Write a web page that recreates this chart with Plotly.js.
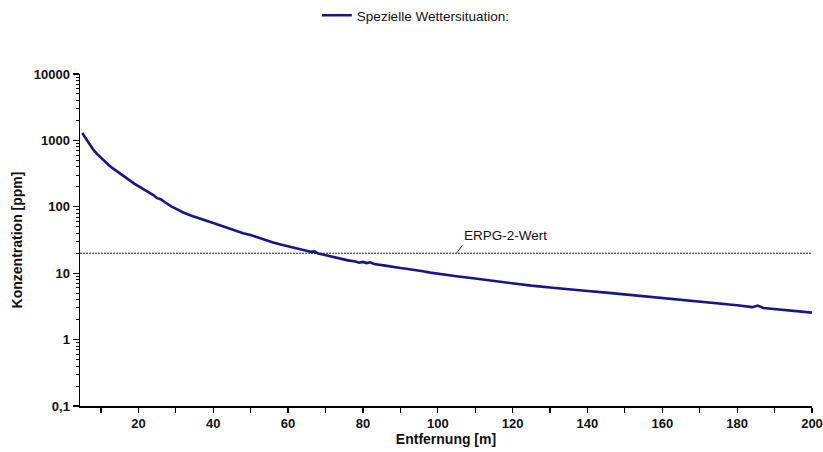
<!DOCTYPE html>
<html>
<head>
<meta charset="utf-8">
<script src="https://cdn.plot.ly/plotly-3.0.1.min.js"></script>
<style>html,body{margin:0;padding:0;background:#fff;}#chart{width:823px;height:452px;}</style>
</head>
<body>
<div id="chart"></div>
<script>
// Distance [m]
var distance = [5,6,7,8,9,10,11,12,13,14,15,16,17,18,19,20,21,22,23,24,25,26,27,28,29,30,
  32,34,36,38,40,42,44,46,48,50,52,54,56,58,60,62,64,66,67,68,69,70,72,74,76,78,79,80,81,82,83,
  86,88,90,92,94,96,98,100,105,110,115,120,125,130,135,140,145,150,155,160,165,170,175,180,184,185.5,187,190,195,200];
// Concentration [ppm]
var concentration = [1290,1050,860,720,620,545,480,430,385,350,318,290,265,243,222,205,190,176,163,150,135,130,118,108,100,94,
  82,74,67,62,57,52,48,44,40,37.5,34.5,31,29,27,25.3,24,22.5,21,21.3,19.8,19.3,18.7,17.5,16.6,15.6,15.0,14.4,14.8,14.2,14.6,13.8,
  13.0,12.4,12.0,11.6,11.0,10.7,10.2,9.9,9.0,8.3,7.6,7.1,6.5,6.1,5.8,5.4,5.1,4.8,4.5,4.2,3.95,3.7,3.5,3.3,3.08,3.25,3.0,2.9,2.75,2.55];
var seriesName = "Spezielle Wettersituation:";
var erpgValue = 20;
var erpgLabel = "ERPG-2-Wert";
var erpgLabelDistance = 105;
var xRange = [4.4, 200];
var yTickVals = [0.1, 1, 10, 100, 1000, 10000];
var yTickText = ["0,1", "1", "10", "100", "1000", "10000"];
var xTickVals = [20, 40, 60, 80, 100, 120, 140, 160, 180, 200];
var xTitle = "Entfernung [m]";
var yTitle = "Konzentration [ppm]";

var yMinor = [];
for (var d = -1; d < 4; d++) {
  for (var k = 2; k <= 9; k++) yMinor.push(k * Math.pow(10, d));
}

var FONT = "Liberation Sans, Arial, sans-serif";

var traces = [
  {
    x: distance, y: concentration, type: "scatter", mode: "lines",
    name: seriesName,
    line: {color: "#16168a", width: 2.6},
    hoverinfo: "skip"
  },
  {
    x: xRange, y: [erpgValue, erpgValue], type: "scatter", mode: "lines",
    showlegend: false,
    line: {color: "#222", width: 1, dash: "2px,1px"},
    hoverinfo: "skip"
  }
];

var layout = {
  width: 823, height: 452,
  margin: {l: 80, r: 11, t: 74, b: 46},
  paper_bgcolor: "#fff", plot_bgcolor: "#fff",
  font: {family: FONT, color: "#111", size: 13},
  showlegend: true,
  legend: {
    orientation: "h", xref: "container", yref: "container",
    x: 0.385, xanchor: "left", y: 1.0, yanchor: "top",
    font: {family: FONT, size: 13.5, color: "#111", weight: 500},
    bgcolor: "rgba(0,0,0,0)"
  },
  xaxis: {
    range: xRange, showgrid: false, zeroline: false,
    showline: true, linecolor: "#000", linewidth: 1.5,
    ticks: "outside", ticklen: 5, tickwidth: 1.2, tickcolor: "#000",
    tickmode: "array", tickvals: xTickVals,
    tickfont: {family: FONT, size: 13, weight: "bold", color: "#111"},
    minor: {ticks: "outside", ticklen: 5, tickwidth: 1.2, tickcolor: "#000", dtick: 10, tick0: 0, showgrid: false},
    title: {text: xTitle, font: {family: FONT, size: 14, weight: "bold", color: "#111"}, standoff: 4}
  },
  yaxis: {
    type: "log", range: [-1, 4], showgrid: false, zeroline: false,
    showline: true, linecolor: "#000", linewidth: 1.5,
    ticks: "outside", ticklen: 6, tickwidth: 1.2, tickcolor: "#000",
    tickmode: "array", tickvals: yTickVals, ticktext: yTickText,
    tickfont: {family: FONT, size: 13, weight: "bold", color: "#111"},
    minor: {ticks: "outside", ticklen: 3, tickwidth: 1, tickcolor: "#000", tickmode: "array", tickvals: yMinor, showgrid: false},
    title: {text: yTitle, font: {family: FONT, size: 14, weight: "bold", color: "#111"}, standoff: 8}
  },
  annotations: [
    {
      x: erpgLabelDistance, y: Math.log10(erpgValue), xref: "x", yref: "y",
      text: erpgLabel, showarrow: true, arrowhead: 0, arrowwidth: 1, arrowcolor: "#222",
      ax: 6, ay: -8, xanchor: "left", yanchor: "bottom",
      font: {family: FONT, size: 13.5, color: "#111"}
    }
  ]
};

Plotly.newPlot("chart", traces, layout, {displayModeBar: false, staticPlot: true});
</script>
</body>
</html>
